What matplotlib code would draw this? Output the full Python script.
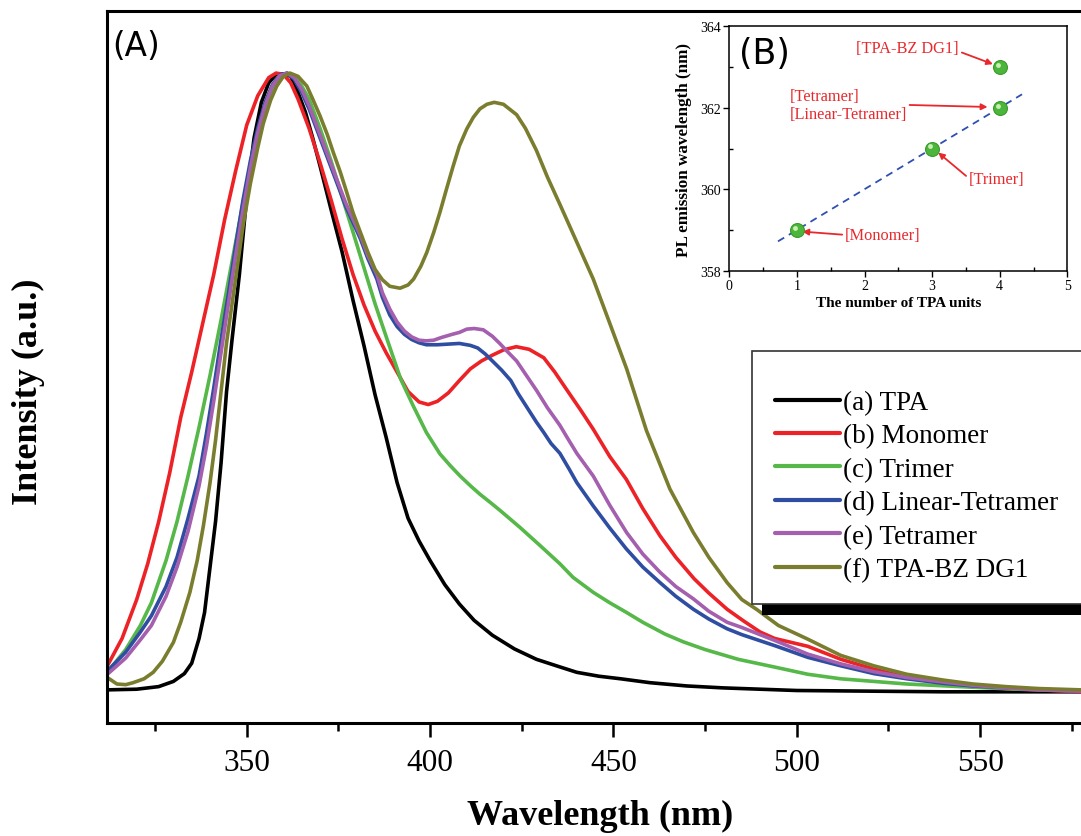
import numpy as np
import matplotlib
matplotlib.use('Agg')
import matplotlib.pyplot as plt
from matplotlib.ticker import MultipleLocator
from matplotlib.patches import Rectangle
from matplotlib.transforms import offset_copy

plt.rcParams['font.family'] = ['Liberation Serif', 'DejaVu Serif']

# --- PL spectra (normalised intensity) ---
wl_tpa = [312, 320, 326, 330, 333, 335, 337, 338.5, 340, 341.5, 343, 344.5, 346, 348, 350, 352, 354, 356, 358, 360,
          362, 364, 366, 368, 370, 373, 376, 379, 382, 385, 388, 391, 394, 397, 400, 404, 408, 412, 417, 423,
          429, 435, 440, 446, 452, 460, 470, 480, 490, 500, 520, 540, 560, 577.5]
int_tpa = [0.051, 0.052, 0.056, 0.064, 0.076, 0.092, 0.13, 0.17, 0.24, 0.31, 0.40, 0.51, 0.59, 0.69, 0.81, 0.90, 0.955, 0.985, 0.998, 0.999,
           0.995, 0.97, 0.94, 0.90, 0.857, 0.79, 0.725, 0.65, 0.58, 0.505, 0.44, 0.37, 0.315, 0.28, 0.25, 0.213, 0.183, 0.158, 0.135, 0.114,
           0.098, 0.087, 0.078, 0.072, 0.068, 0.062, 0.057, 0.054, 0.052, 0.05, 0.049, 0.048, 0.048, 0.048]

wl_mono = [312, 316, 320, 323, 326, 329, 332, 335, 338, 341, 344, 347, 350, 353, 356, 358, 360, 362, 364, 367,
           370, 373, 376, 379, 382, 385, 388, 391, 394, 397, 399.5, 402, 405, 408, 411, 414, 417, 420, 423.5, 427,
           431, 434, 437, 441, 444.5, 449, 453.5, 458, 462.7, 467, 472, 476, 481, 485.5, 490, 494, 503, 512, 521, 530,
           540, 548, 557, 566, 577.5]
int_mono = [0.088, 0.13, 0.19, 0.245, 0.31, 0.385, 0.47, 0.54, 0.615, 0.69, 0.775, 0.85, 0.92, 0.965, 0.993, 1.0, 0.998, 0.985, 0.96, 0.915,
            0.862, 0.805, 0.745, 0.69, 0.643, 0.603, 0.57, 0.54, 0.51, 0.494, 0.49, 0.495, 0.508, 0.527, 0.545, 0.557, 0.566, 0.574, 0.579, 0.575,
            0.562, 0.54, 0.515, 0.482, 0.452, 0.41, 0.375, 0.33, 0.288, 0.255, 0.222, 0.2, 0.175, 0.157, 0.14, 0.13, 0.118, 0.098, 0.083, 0.07,
            0.062, 0.057, 0.053, 0.051, 0.048]

wl_tri = [312, 317, 321, 324, 328, 331, 334, 337, 340, 343, 346, 349, 352, 355, 358, 361, 364, 367, 370, 373,
          376, 379, 382, 385, 388, 392, 395.4, 399, 402.7, 405.5, 408.2, 411, 413.6, 416.5, 419.1, 424.5, 430, 435.4, 439, 444.5,
          449, 453.6, 458, 464, 469, 475, 484, 494, 503, 512, 521, 530, 548, 560, 577.5]
int_tri = [0.078, 0.113, 0.15, 0.185, 0.25, 0.31, 0.38, 0.455, 0.535, 0.62, 0.71, 0.80, 0.88, 0.945, 0.985, 1.0, 0.99, 0.96, 0.915, 0.865,
           0.81, 0.755, 0.70, 0.645, 0.595, 0.529, 0.488, 0.447, 0.414, 0.396, 0.38, 0.365, 0.352, 0.339, 0.327, 0.301, 0.273, 0.245, 0.224, 0.201,
           0.185, 0.17, 0.155, 0.137, 0.125, 0.113, 0.098, 0.086, 0.075, 0.068, 0.064, 0.06, 0.055, 0.052, 0.05]

wl_lin = [312, 317, 321, 324, 328, 331, 334, 337, 339, 341, 343, 345, 347, 349, 351, 353, 355, 357, 359, 361,
          363, 365, 367, 369, 371, 373, 375, 377, 379, 381, 383, 385.5, 387, 389, 391, 393, 395, 397, 399, 402,
          405, 408, 411, 413, 415, 417, 419.5, 422, 424, 426.5, 429, 431, 433, 435.4, 438, 440, 444.5, 449, 453.5, 458,
          462.7, 467, 471.8, 476, 481, 485, 494, 503, 512, 521, 530, 540, 548, 557, 566, 577.5]
int_lin = [0.08, 0.109, 0.14, 0.165, 0.21, 0.255, 0.315, 0.38, 0.445, 0.515, 0.59, 0.66, 0.735, 0.805, 0.865, 0.915, 0.955, 0.982, 0.997, 1.0,
           0.99, 0.97, 0.945, 0.915, 0.885, 0.855, 0.825, 0.795, 0.77, 0.745, 0.715, 0.683, 0.655, 0.628, 0.61, 0.598, 0.59, 0.585, 0.582, 0.582,
           0.583, 0.584, 0.581, 0.577, 0.568, 0.557, 0.543, 0.527, 0.507, 0.485, 0.463, 0.447, 0.43, 0.415, 0.39, 0.37, 0.334, 0.3, 0.268, 0.24,
           0.216, 0.195, 0.175, 0.16, 0.145, 0.136, 0.119, 0.101, 0.088, 0.076, 0.068, 0.061, 0.057, 0.054, 0.052, 0.049]

wl_tet = [312, 317, 321, 324, 328, 331, 334, 337, 339, 341, 343, 345, 347, 349, 351, 353, 355, 357, 359, 361,
          363, 365, 367, 369, 371, 373, 375, 377, 379, 381, 383, 385.5, 387, 389, 391, 393, 395, 397, 399, 401,
          403, 406, 408, 410, 412, 414.5, 417, 419, 421, 423.6, 426, 429, 432, 435.4, 437.3, 440, 444.5, 449, 453.6, 458,
          462.7, 467, 471.8, 476, 481, 485, 494, 503, 512, 521, 530, 540, 548, 557, 566, 577.5]
int_tet = [0.075, 0.1, 0.128, 0.15, 0.195, 0.24, 0.295, 0.365, 0.425, 0.495, 0.57, 0.645, 0.72, 0.79, 0.855, 0.908, 0.95, 0.98, 0.996, 1.0,
           0.993, 0.975, 0.95, 0.92, 0.89, 0.86, 0.83, 0.8, 0.775, 0.75, 0.72, 0.69, 0.662, 0.637, 0.617, 0.603, 0.594, 0.589, 0.588, 0.589,
           0.593, 0.598, 0.601, 0.606, 0.607, 0.605, 0.595, 0.584, 0.572, 0.557, 0.537, 0.512, 0.485, 0.458, 0.44, 0.415, 0.38, 0.335, 0.293, 0.26,
           0.232, 0.21, 0.191, 0.172, 0.155, 0.147, 0.127, 0.106, 0.091, 0.079, 0.07, 0.063, 0.058, 0.054, 0.051, 0.049]

wl_dg1 = [312, 314.6, 317, 319, 322, 324.5, 327, 330, 332, 334.5, 336.5, 338.2, 340, 341.5, 343, 344.5, 346, 347.5, 349, 351,
          353, 354.5, 356.5, 358.2, 360, 361.8, 364, 366.4, 368, 370, 372, 373.6, 375.5, 377.3, 379, 381, 383, 385, 387, 389,
          391.8, 394, 395.5, 397.5, 399.1, 401, 402.7, 404.5, 406.3, 408, 410, 411.8, 413.6, 415.5, 417.5, 420, 423.6, 426, 429, 432,
          435.4, 440, 444.5, 449, 453.6, 459, 465.4, 471.8, 476, 481, 485, 489, 495, 503, 512, 521, 530, 540, 548, 557,
          566, 577.5]
int_dg1 = [0.07, 0.06, 0.059, 0.062, 0.068, 0.078, 0.095, 0.124, 0.155, 0.201, 0.25, 0.304, 0.37, 0.435, 0.51, 0.585, 0.645, 0.705, 0.765, 0.83,
           0.885, 0.922, 0.958, 0.98, 0.995, 1.0, 0.995, 0.98, 0.96, 0.934, 0.905, 0.878, 0.848, 0.816, 0.785, 0.755, 0.725, 0.698, 0.682, 0.672,
           0.669, 0.674, 0.683, 0.703, 0.724, 0.755, 0.786, 0.822, 0.857, 0.888, 0.914, 0.932, 0.945, 0.952, 0.955, 0.952, 0.936, 0.915, 0.881, 0.84,
           0.798, 0.74, 0.683, 0.615, 0.545, 0.45, 0.36, 0.293, 0.255, 0.216, 0.19, 0.175, 0.15, 0.129, 0.104, 0.088, 0.075, 0.066, 0.06, 0.056,
           0.053, 0.051]

series_labels = ['(a) TPA', '(b) Monomer', '(c) Trimer', '(d) Linear-Tetramer', '(e) Tetramer', '(f) TPA-BZ DG1']
series_colors = ['#000000', '#ec2227', '#55b848', '#2f4ea2', '#a45fae', '#7a7d2e']

# --- inset (B): emission maximum vs number of TPA units ---
tpa_units = [1, 3, 4, 4]
pl_peak = [359, 361, 362, 363]
fit_range = [0.72, 4.33]

RED = '#e8282c'

fig = plt.figure(figsize=(10.81, 8.37), dpi=100)
W, H = 1081.0, 837.0

# main axes (right edge cut off like the original)
ax = fig.add_axes([107 / W, 1 - 724 / H, 1 - 107 / W, (724 - 11.7) / H])
series = [(wl_tpa, int_tpa), (wl_mono, int_mono), (wl_tri, int_tri),
          (wl_lin, int_lin), (wl_tet, int_tet), (wl_dg1, int_dg1)]
handles = []
for (x, y), lab, col in zip(series, series_labels, series_colors):
    ln, = ax.plot(x, y, color=col, lw=2.6, label=lab, solid_capstyle='round',
                  solid_joinstyle='round')
    handles.append(ln)

ax.set_xlim(311.9, 577.5)
ax.set_ylim(0, 1.096)
ax.set_yticks([])
ax.xaxis.set_major_locator(MultipleLocator(50))
ax.xaxis.set_minor_locator(MultipleLocator(25))
ax.tick_params(axis='x', which='major', direction='out', length=10, width=1.8,
               labelsize=22.5, pad=8)
ax.tick_params(axis='x', which='minor', direction='out', length=5.5, width=1.8)
ax.spines['right'].set_visible(False)
for s in ['left', 'bottom', 'top']:
    ax.spines[s].set_linewidth(2.2)

fig.text(600 / W, 1 - 816 / H, 'Wavelength (nm)', ha='center', va='center',
         fontsize=26, fontweight='bold')
fig.text(28 / W, 1 - 392 / H, 'Intensity (a.u.)', ha='center', va='center',
         rotation=90, fontsize=26, fontweight='bold')
fig.text(112 / W, 1 - 30 / H, '(A)', ha='left', va='top', fontsize=23.5,
         family='DejaVu Sans')

# legend box with heavy shadow
fig.add_artist(Rectangle((762 / W, 1 - 616 / H), 0.5, 20 / H, transform=fig.transFigure,
                         facecolor='black', edgecolor='none', zorder=2))
fig.add_artist(Rectangle((752 / W, 1 - 605 / H), 0.5, (605 - 352) / H, transform=fig.transFigure,
                         facecolor='white', edgecolor='#333333', lw=1.2, zorder=3))
leg = fig.legend(handles, series_labels, loc='upper left', bbox_to_anchor=(775 / W, 1 - 391 / H),
                 frameon=False, fontsize=19.5, handlelength=2.4, handletextpad=0.1,
                 labelspacing=0.31, borderpad=0, borderaxespad=0)
leg.set_zorder(5)
for lh in leg.get_lines():
    lh.set_linewidth(3)

# inset (B)
axin = fig.add_axes([729.3 / W, 1 - 271.7 / H, 338 / W, 244.4 / H])
slope, icpt = np.polyfit(tpa_units[:3], pl_peak[:3], 1)
fx = np.array(fit_range)
axin.plot(fx, slope * fx + icpt, ls='--', color='#3050b0', lw=1.3, dashes=(4, 3))
axin.plot(tpa_units, pl_peak, 'o', ms=10, color='#4cb53c', mec='#3a9a2c', mew=0.8, zorder=5)
hl = offset_copy(axin.transData, fig=fig, x=-1.2, y=1.5, units='points')
axin.plot(tpa_units, pl_peak, 'o', ms=3.5, color='#c8f0b0', mec='none', zorder=6, transform=hl)

axin.set_xlim(0, 5)
axin.set_ylim(358, 364)
axin.set_xticks(range(6))
axin.set_yticks([358, 360, 362, 364])
axin.xaxis.set_minor_locator(MultipleLocator(0.5))
axin.yaxis.set_minor_locator(MultipleLocator(1))
axin.tick_params(which='major', direction='out', length=4, width=1, labelsize=10, pad=2)
axin.tick_params(which='minor', direction='in', length=3, width=1)
for s in axin.spines.values():
    s.set_linewidth(1.1)
axin.set_xlabel('The number of TPA units', fontsize=11, fontweight='bold', labelpad=3)
axin.set_ylabel('PL emission wavelength (nm)', fontsize=12.3, fontweight='bold', labelpad=6)
axin.text(0.03, 0.96, '(B)', transform=axin.transAxes, ha='left', va='top',
          fontsize=25, family='DejaVu Sans')

ann = dict(arrowstyle='-|>', color=RED, lw=1.3, mutation_scale=9, shrinkA=0, shrinkB=0)
axin.annotate('[TPA-BZ DG1]', xy=(3.9, 363.07), xytext=(2.64, 363.46), color=RED,
              fontsize=11.8, ha='center', va='center',
              arrowprops=dict(ann, relpos=(1.0, 0.3)))
axin.annotate('[Tetramer]\n[Linear-Tetramer]', xy=(3.82, 362.02), xytext=(0.89, 362.07), color=RED,
              fontsize=11.8, ha='left', va='center', linespacing=1.15,
              arrowprops=dict(ann, relpos=(1.0, 0.5)))
axin.annotate('[Trimer]', xy=(3.09, 360.9), xytext=(3.955, 360.25), color=RED,
              fontsize=11.8, ha='center', va='center',
              arrowprops=dict(ann, relpos=(0.0, 0.55)))
axin.annotate('[Monomer]', xy=(1.08, 358.96), xytext=(2.27, 358.88), color=RED,
              fontsize=11.8, ha='center', va='center',
              arrowprops=dict(ann, relpos=(0.0, 0.5)))

fig.savefig('out.png', dpi=100)
